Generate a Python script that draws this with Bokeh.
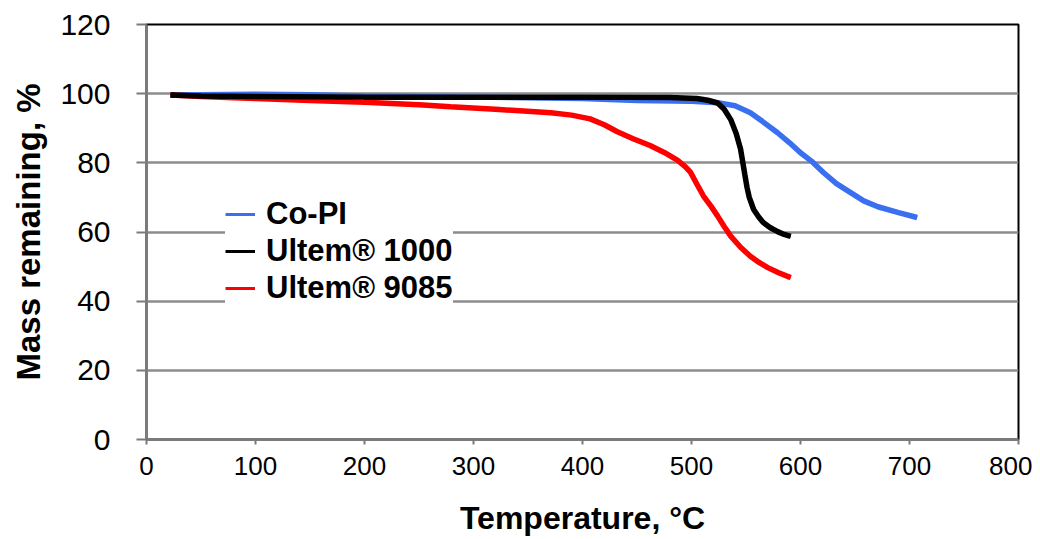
from bokeh.plotting import figure
from bokeh.models import Range1d, Legend, LegendItem, FixedTicker
from bokeh.embed import file_html
from bokeh.resources import INLINE

# Co-PI
copi_t = [22, 100, 150, 200, 300, 400, 450, 500, 524, 540, 554, 565, 579, 590, 600, 610, 621, 633, 646, 658, 671, 690, 707]
copi_m = [99.6, 99.8, 99.7, 99.3, 99.0, 98.6, 98.0, 97.8, 97.4, 96.5, 94.5, 92.0, 88.7, 85.8, 82.9, 80.5, 77.2, 74.0, 71.4, 69.0, 67.3, 65.6, 64.2]

# Ultem 1000
u1000_t = [22, 50, 100, 200, 300, 400, 480, 505, 515, 524, 530, 536, 541, 545, 549, 551, 553, 557, 562, 566, 572, 579, 585, 591]
u1000_m = [99.6, 99.3, 99.2, 99.0, 99.0, 99.0, 98.9, 98.6, 98.1, 97.3, 95.5, 92.5, 88.5, 84.0, 76.5, 72.8, 70.0, 66.5, 64.2, 62.7, 61.3, 60.1, 59.3, 58.7]

# Ultem 9085
u9085_t = [22, 50, 80, 100, 150, 200, 250, 279, 320, 371, 390, 407, 420, 432, 447, 462, 475, 487, 494, 499, 505, 511, 518, 524, 530, 536, 545, 554, 562, 570, 580, 591]
u9085_m = [99.6, 99.2, 98.8, 98.6, 98.0, 97.5, 96.8, 96.2, 95.5, 94.5, 93.8, 92.7, 91.0, 89.0, 86.9, 85.0, 83.0, 80.8, 79.0, 77.3, 73.8, 70.4, 67.4, 64.6, 61.6, 58.8, 55.6, 53.0, 51.2, 49.7, 48.2, 46.8]

series_names = ["Co-PI", "Ultem® 1000", "Ultem® 9085"]
series_colors = ["#3a6ff0", "black", "#ff0000"]
x_ticks = [0, 100, 200, 300, 400, 500, 600, 700, 800]
y_ticks = [0, 20, 40, 60, 80, 100, 120]

FONT = "Liberation Sans"

p = figure(width=1032, height=538, output_backend="svg", toolbar_location=None,
           x_range=Range1d(0, 800), y_range=Range1d(0, 120),
           min_border_left=146, min_border_right=14, min_border_top=24, min_border_bottom=99)

p.background_fill_color = "white"
p.border_fill_color = "white"
p.outline_line_color = "black"
p.outline_line_width = 2

p.xgrid.visible = False
p.ygrid.grid_line_color = "#8c8c8c"
p.ygrid.grid_line_width = 2.5
p.ygrid.ticker = FixedTicker(ticks=y_ticks)

for ax in (p.xaxis[0], p.yaxis[0]):
    ax.axis_line_color = "#7a7a7a"
    ax.axis_line_width = 2.5
    ax.major_tick_line_color = "#7a7a7a"
    ax.major_tick_line_width = 2
    ax.minor_tick_line_color = None
    ax.major_label_text_font = FONT
    ax.major_label_text_color = "black"
    ax.axis_label_text_font = FONT
    ax.axis_label_text_font_style = "bold"
    ax.axis_label_text_color = "black"

p.xaxis.ticker = FixedTicker(ticks=x_ticks)
p.yaxis.ticker = FixedTicker(ticks=y_ticks)

p.xaxis.major_tick_in = 0
p.xaxis.major_tick_out = 5
p.xaxis.major_label_text_font_size = "26px"
p.xaxis.major_label_standoff = 12
p.xaxis.axis_label = "Temperature, °C"
p.xaxis.axis_label_text_font_size = "32px"
p.xaxis.axis_label_standoff = 22

p.yaxis.major_tick_in = 0
p.yaxis.major_tick_out = 10
p.yaxis.major_label_text_font_size = "30px"
p.yaxis.major_label_standoff = 26
p.yaxis.axis_label = "Mass remaining, %"
p.yaxis.axis_label_text_font_size = "33px"
p.yaxis.axis_label_standoff = 10

# thin lines (used as legend swatches), covered by the thick curves
lg = [p.line(t, m, line_color=c, line_width=3)
      for t, m, c in zip([copi_t, u1000_t, u9085_t], [copi_m, u1000_m, u9085_m], series_colors)]

r1 = p.line(copi_t, copi_m, line_color=series_colors[0], line_width=5.5)
r3 = p.line(u9085_t, u9085_m, line_color=series_colors[2], line_width=5.5)
r2 = p.line(u1000_t, u1000_m, line_color=series_colors[1], line_width=5.5)

legend = Legend(items=[LegendItem(label=n, renderers=[r]) for n, r in zip(series_names, lg)],
                location=(79, 133), margin=0, padding=14, spacing=1,
                label_height=30, glyph_height=30, glyph_width=30, label_standoff=11,
                label_text_font=FONT, label_text_font_style="bold",
                label_text_font_size="31px", label_text_color="black",
                background_fill_color="white", background_fill_alpha=1.0,
                border_line_color=None)
p.add_layout(legend, "center")

open("out.html", "w").write(file_html(p, INLINE))
